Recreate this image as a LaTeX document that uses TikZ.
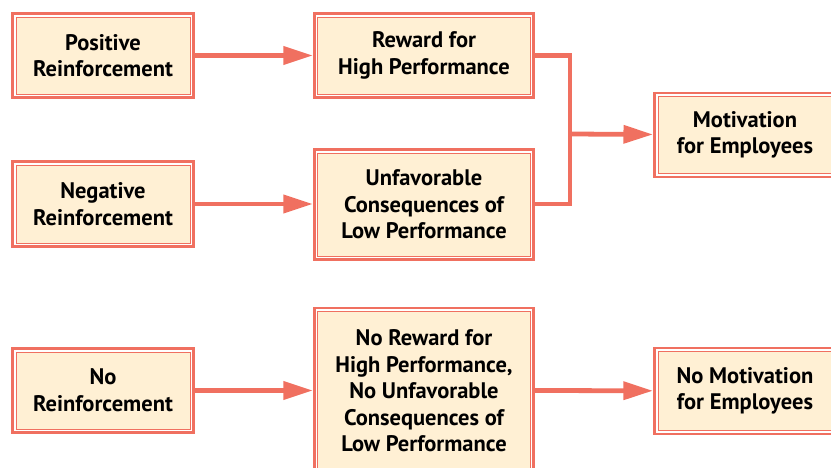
\documentclass[tikz,border=0pt]{standalone}
\usepackage{fontspec}
\setmainfont{PT Sans}
\usepackage{xcolor}
\usepackage{tikz}
\usetikzlibrary{arrows.meta}

\definecolor{salmon}{RGB}{240,112,96}
\definecolor{cream}{RGB}{255,240,212}

\begin{document}
\begin{tikzpicture}[
    x=0.025cm, y=-0.025cm,
    box/.style={rectangle, draw=salmon, line width=2.1pt, fill=white,
      align=center, font=\fontsize{16}{18.9}\selectfont\bfseries,
      minimum width=4.525cm, minimum height=2.1cm, inner sep=2pt,
      path picture={\draw[salmon, line width=0.7pt, fill=cream]
        ([shift={(2.5pt,2.5pt)}]path picture bounding box.south west) rectangle
        ([shift={(-2.5pt,-2.5pt)}]path picture bounding box.north east);}},
    link/.style={salmon, line width=3.4pt},
    arrow/.style={link, -{Triangle[length=21pt, width=12.5pt]}}
]
  \useasboundingbox (0,0) rectangle (831,468);

  % Left column
  \node[box] (pos) at (103,55.5) {Positive\\Reinforcement};
  \node[box, minimum height=2.125cm] (neg) at (103,204) {Negative\\Reinforcement};
  \node[box] (none) at (103,390.5) {No\\Reinforcement};

  % Middle column
  \node[box, minimum width=5.475cm] (reward) at (424,55.5) {Reward for\\High Performance};
  \node[box, minimum width=5.475cm, minimum height=2.75cm] (unfav) at (424,204.5)
    {Unfavorable\\Consequences of\\Low Performance};
  \node[box, minimum width=5.475cm, minimum height=4.15cm] (noreward) at (424,391)
    {No Reward for\\High Performance,\\No Unfavorable\\Consequences of\\Low Performance};

  % Right column
  \node[box] (motiv) at (745,135) {Motivation\\for Employees};
  \node[box, minimum height=2.15cm] (nomotiv) at (745,391) {No Motivation\\for Employees};

  % Connectors
  \coordinate (join) at (570,134);
  \draw[arrow] (pos) -- (reward);
  \draw[arrow] (neg) -- (neg -| unfav.west);
  \draw[link] (reward.east) -| (join);
  \draw[link] (unfav.east |- neg) -| (join);
  \draw[arrow] (join) -- (motiv);
  \draw[arrow] (none) -- (none -| noreward.west);
  \draw[arrow] (noreward.east |- none) -- (nomotiv);
\end{tikzpicture}
\end{document}
